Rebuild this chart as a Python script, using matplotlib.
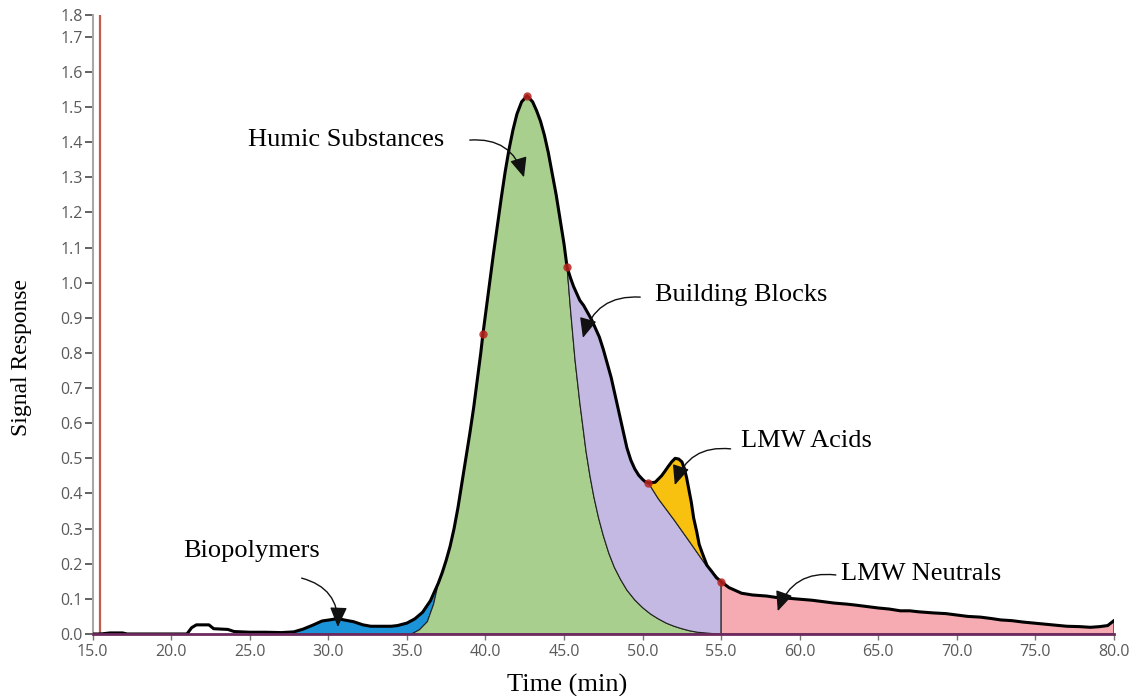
import numpy as np
import matplotlib
matplotlib.use("Agg")
import matplotlib.pyplot as plt

# chromatogram trace (time in min, signal)
time = np.array([
    15.0, 15.5, 16.1, 16.9, 17.2, 21.0, 21.3, 21.6, 22.4, 22.7, 23.6, 24.0,
    25.0, 26.0, 27.0, 27.8, 28.4, 29.0, 29.6, 30.2, 30.6, 31.0, 31.6, 32.2,
    32.7, 34.0, 34.4, 35.0, 35.5, 36.0, 36.5, 37.0, 37.25, 37.5, 37.75, 38.0,
    38.25, 38.5, 38.75, 39.0, 39.25, 39.5, 39.7, 39.84, 40.0, 40.25, 40.5, 40.75,
    41.0, 41.25, 41.5, 41.75, 42.0, 42.3, 42.65, 43.0, 43.25, 43.5, 43.75, 44.0,
    44.25, 44.5, 44.75, 45.0, 45.19, 45.4, 45.6, 45.8, 46.0, 46.25, 46.5, 46.75,
    47.0, 47.25, 47.5, 47.75, 48.0, 48.25, 48.5, 48.75, 49.0, 49.25, 49.5, 49.75,
    50.0, 50.15, 50.37, 50.8, 51.2, 51.4, 51.6, 51.85, 52.07, 52.3, 52.5, 52.65,
    52.8, 52.95, 53.1, 53.25, 53.45, 53.6, 53.8, 54.1, 54.4, 54.7, 55.0, 55.5,
    56.3, 57.0, 57.9, 58.5, 59.2, 60.0, 60.8, 61.5, 62.2, 63.0, 63.6, 64.3,
    65.0, 65.7, 66.4, 67.0, 67.6, 68.5, 69.3, 70.0, 70.7, 71.5, 72.2, 72.8,
    73.5, 74.2, 74.9, 75.6, 76.3, 77.0, 77.8, 78.5, 79.1, 79.6, 80.0])
signal = np.array([
    0.000, 0.000, 0.003, 0.003, 0.000, 0.000, 0.018, 0.026, 0.026, 0.015, 0.013, 0.007,
    0.005, 0.005, 0.004, 0.006, 0.014, 0.025, 0.037, 0.041, 0.044, 0.040, 0.035, 0.026,
    0.022, 0.022, 0.024, 0.031, 0.043, 0.062, 0.095, 0.145, 0.175, 0.210, 0.250, 0.300,
    0.360, 0.430, 0.500, 0.570, 0.645, 0.730, 0.800, 0.855, 0.910, 0.995, 1.080, 1.160,
    1.240, 1.315, 1.380, 1.435, 1.480, 1.515, 1.532, 1.515, 1.490, 1.460, 1.420, 1.370,
    1.310, 1.250, 1.180, 1.110, 1.045, 1.015, 0.990, 0.970, 0.950, 0.935, 0.915, 0.895,
    0.870, 0.845, 0.810, 0.770, 0.730, 0.680, 0.630, 0.580, 0.530, 0.495, 0.470, 0.452,
    0.440, 0.434, 0.430, 0.432, 0.450, 0.462, 0.475, 0.490, 0.500, 0.498, 0.490, 0.472,
    0.445, 0.410, 0.375, 0.330, 0.290, 0.255, 0.230, 0.195, 0.178, 0.160, 0.149, 0.132,
    0.116, 0.111, 0.108, 0.104, 0.102, 0.099, 0.096, 0.092, 0.088, 0.085, 0.082, 0.078,
    0.074, 0.071, 0.066, 0.066, 0.063, 0.060, 0.058, 0.054, 0.050, 0.048, 0.044, 0.040,
    0.038, 0.034, 0.031, 0.028, 0.025, 0.022, 0.021, 0.019, 0.021, 0.024, 0.038])

# fitted fraction boundaries
hs_edge_t = np.array([35.3, 35.8, 36.3, 36.7, 37.0])
hs_edge_y = np.array([0.0, 0.012, 0.035, 0.085, 0.145])
hs_tail_t = np.array([45.19, 45.3, 45.4, 45.55, 45.7, 45.85, 46.0, 46.2, 46.4, 46.65, 46.9, 47.2,
                      47.5, 47.85, 48.2, 48.6, 49.0, 49.5, 50.0, 50.5, 51.0, 51.5, 52.0, 52.5,
                      53.0, 53.5, 54.0, 54.5, 55.0])
hs_tail_y = np.array([1.045, 0.985, 0.93, 0.855, 0.78, 0.72, 0.66, 0.59, 0.52, 0.45, 0.39, 0.33,
                      0.28, 0.23, 0.19, 0.155, 0.125, 0.097, 0.075, 0.057, 0.043, 0.031, 0.022, 0.015,
                      0.009, 0.005, 0.003, 0.001, 0.0])
lmwa_base_t = np.array([50.37, 51.0, 52.0, 53.0, 54.0, 55.0])
lmwa_base_y = np.array([0.43, 0.385, 0.325, 0.262, 0.198, 0.149])

bp_start = 27.8
split_times = [39.84, 42.65, 45.19, 50.37, 55.0]

fractions = ["Biopolymers", "Humic Substances", "Building Blocks", "LMW Acids", "LMW Neutrals"]
label_pos = [(25.1, 0.236), (31.1, 1.406), (56.3, 0.965), (60.4, 0.549), (67.7, 0.171)]
arrow_tail = [(28.3, 0.159), (39.0, 1.406), (49.85, 0.959), (55.6, 0.527), (62.3, 0.168)]
arrow_tip = [(30.6, 0.02), (42.45, 1.30), (46.2, 0.843), (52.05, 0.424), (58.6, 0.065)]
arrow_rad = [-0.4, -0.4, 0.4, 0.4, 0.4]

colors = {"bp": "#1b93d8", "hs": "#a9cf8f", "bb": "#c4b9e2", "lmwa": "#f8c10f", "lmwn": "#f5abb1"}

fig = plt.figure(figsize=(11.33, 6.96), dpi=100)
ax = fig.add_axes([0.0818, 0.0891, 0.9014, 0.8893])


def seg(t0, t1):
    m = (time >= t0) & (time <= t1)
    return time[m], signal[m]


edge_kw = dict(edgecolor="#222222", linewidth=0.8, zorder=1)

# biopolymers
ct, cy = seg(bp_start, hs_edge_t[-1])
ax.fill(np.r_[ct, hs_edge_t[::-1], bp_start], np.r_[cy, hs_edge_y[::-1], 0.0],
        facecolor=colors["bp"], **edge_kw)

# humic substances
ct, cy = seg(hs_edge_t[-1], hs_tail_t[0])
ax.fill(np.r_[hs_edge_t, ct[1:], hs_tail_t[1:]], np.r_[hs_edge_y, cy[1:], hs_tail_y[1:]],
        facecolor=colors["hs"], **edge_kw)

# building blocks
ct, cy = seg(hs_tail_t[0], lmwa_base_t[0])
ax.fill(np.r_[ct, lmwa_base_t[1:], hs_tail_t[::-1]], np.r_[cy, lmwa_base_y[1:], hs_tail_y[::-1]],
        facecolor=colors["bb"], **edge_kw)

# LMW acids
ct, cy = seg(lmwa_base_t[0], lmwa_base_t[-1])
ax.fill(np.r_[ct, lmwa_base_t[::-1]], np.r_[cy, lmwa_base_y[::-1]],
        facecolor=colors["lmwa"], **edge_kw)

# LMW neutrals
ct, cy = seg(55.0, time[-1])
ax.fill(np.r_[ct, time[-1], 55.0], np.r_[cy, 0.0, 0.0],
        facecolor=colors["lmwn"], **edge_kw)

ax.plot(time, signal, color="black", lw=2.2, zorder=3, solid_joinstyle="round")

m = np.isin(time, split_times)
ax.plot(time[m], signal[m], "o", color="#b8231f", ms=6, alpha=0.85, mec="none", zorder=4)

ax.axvline(15.45, color="#c45a50", lw=1.6, zorder=2)

serif = ["Liberation Serif", "DejaVu Serif"]
for name, pos, tail, tip, rad in zip(fractions, label_pos, arrow_tail, arrow_tip, arrow_rad):
    ax.text(pos[0], pos[1], name, ha="center", va="center", fontsize=19, family=serif, zorder=5)
    ax.annotate("", xy=tip, xytext=tail,
                arrowprops=dict(arrowstyle="-|>,head_length=0.55,head_width=0.24",
                                color="#111111", lw=1.0, mutation_scale=22,
                                shrinkA=0, shrinkB=0,
                                connectionstyle=f"arc3,rad={rad}"),
                zorder=5)

ax.set_xlim(15, 80)
ymax = 1.762
ax.set_ylim(0, ymax)
xt = np.arange(15, 81, 5)
ax.set_xticks(xt)
ax.set_xticklabels([f"{v:.1f}" for v in xt])
yt = list(np.round(np.arange(0, 1.71, 0.1), 1)) + [ymax]
ax.set_yticks(yt)
ax.set_yticklabels([f"{v:.1f}" for v in yt])

ax.tick_params(axis="both", labelsize=11.5, labelcolor="#5a5a5a", labelfontfamily="Open Sans")
ax.tick_params(axis="x", direction="out", length=4, width=1, color="#777777", pad=3)
ax.tick_params(axis="y", direction="out", length=6, width=1.3, color="#555555", pad=1)

for s in ["top", "right"]:
    ax.spines[s].set_visible(False)
ax.spines["left"].set_color("#a8a8a8")
ax.spines["left"].set_linewidth(1.5)
ax.spines["bottom"].set_color("#6e2a5e")
ax.spines["bottom"].set_linewidth(2)
ax.spines["bottom"].set_zorder(3.5)

fig.text(567 / 1133, 1 - 685 / 696, "Time (min)", ha="center", va="center", fontsize=19, family=serif)
fig.text(22 / 1133, 1 - 357 / 696, "Signal Response", ha="center", va="center", rotation=90,
         fontsize=17, family=serif)

fig.savefig("out.png", dpi=100, facecolor="white")
